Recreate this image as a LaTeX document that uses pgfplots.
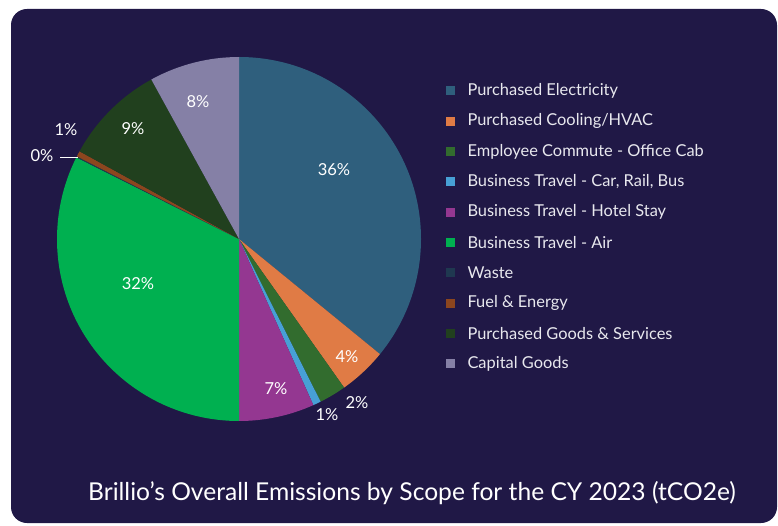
\documentclass[border=0pt]{standalone}
\usepackage{pgfplots}
\pgfplotsset{compat=1.18}
\usepackage{pgfplotstable}
\usepackage{fontspec}
\setmainfont{Lato}

\definecolor{bg}{RGB}{32,24,70}
\definecolor{txt}{RGB}{232,232,238}
\definecolor{slice0}{RGB}{47,95,125}
\definecolor{slice1}{RGB}{224,123,69}
\definecolor{slice2}{RGB}{50,108,46}
\definecolor{slice3}{RGB}{71,160,213}
\definecolor{slice4}{RGB}{148,55,145}
\definecolor{slice5}{RGB}{0,176,80}
\definecolor{slice6}{RGB}{31,56,80}
\definecolor{slice7}{RGB}{140,70,30}
\definecolor{slice8}{RGB}{33,64,30}
\definecolor{slice9}{RGB}{133,128,166}

% share of each category (%), clockwise from 12 o'clock
\pgfplotstableread{
idx value
0 35.9
1 4.3
2 2.4
3 0.7
4 6.7
5 32.4
6 0.1
7 0.5
8 9.0
9 8.0
}\emissions

\begin{document}
\begin{tikzpicture}[x=1pt,y=1pt]
\useasboundingbox (0,0) rectangle (778,525);
\fill[bg,rounded corners=16pt] (11,2) rectangle (777,516);

\begin{axis}[
  at={(57pt,104pt)}, anchor=south west,
  scale only axis, width=364pt, height=364pt,
  xmin=-1, xmax=1, ymin=-1, ymax=1,
  hide axis, clip=false,
]
\def\cum{0}
\pgfplotsforeachungrouped \i in {0,...,9}{%
  \pgfplotstablegetelem{\i}{value}\of\emissions
  \pgfmathsetmacro\aS{90-3.6*\cum}%
  \pgfmathsetmacro\cum{\cum+\pgfplotsretval}%
  \pgfmathsetmacro\aE{90-3.6*\cum}%
  \pgfmathsetmacro\cS{cos(\aS)}%
  \pgfmathsetmacro\sS{sin(\aS)}%
  \edef\temp{\noexpand\fill[slice\i] (axis cs:0,0) -- (axis cs:\cS,\sS) arc[start angle=\aS, end angle=\aE, radius=182pt] -- cycle;}%
  \temp
}
\end{axis}

% slice labels
\begin{scope}[every node/.style={text=white,font=\fontsize{16.5}{18}\selectfont}]
\node at (334,355) {36\%};
\node at (347,168) {4\%};
\node at (357,122) {2\%};
\node at (327,110) {1\%};
\node at (276,136) {7\%};
\node at (138,241) {32\%};
\node[anchor=east] at (57,369) {0\%};
\node at (66,395) {1\%};
\node at (133,396) {9\%};
\node at (198,423) {8\%};
\end{scope}
\draw[white,line width=0.8pt] (60,368) -- (78,368);

% legend
\begin{scope}[every node/.style={text=txt,anchor=west,font=\fontsize{16.4}{18}\selectfont}]
\foreach \k/\lab in {0/{Purchased Electricity},1/{Purchased Cooling/HVAC},2/{Employee Commute - Office Cab},3/{Business Travel - Car, Rail, Bus},4/{Business Travel - Hotel Stay},5/{Business Travel - Air},6/{Waste},7/{Fuel \& Energy},8/{Purchased Goods \& Services},9/{Capital Goods}}{
  \pgfmathsetmacro\yy{434-30.3*\k}
  \fill[slice\k] (446,\yy-4.5) rectangle (455,\yy+4.5);
  \node at (464,\yy) {\lab};
}
\end{scope}

% title
\node[text=white,font=\fontsize{24.6}{28}\selectfont] at (412,32) {Brillio’s Overall Emissions by Scope for the CY 2023 (tCO2e)};
\end{tikzpicture}
\end{document}
